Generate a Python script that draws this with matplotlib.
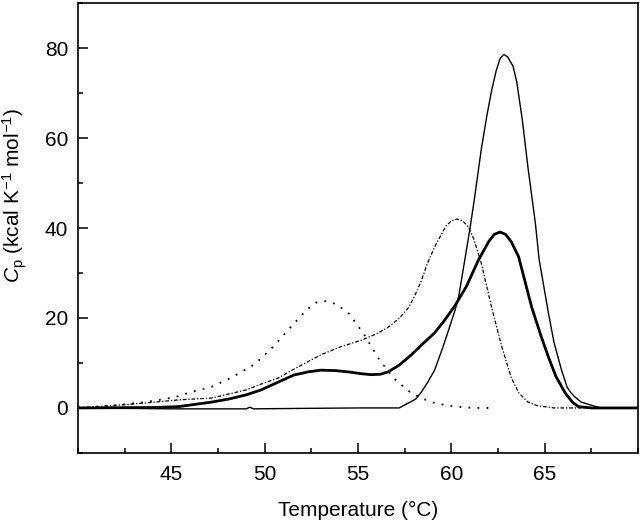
import matplotlib
matplotlib.use('agg')
import matplotlib.pyplot as plt
from matplotlib.ticker import MultipleLocator

plt.rcParams['font.family'] = ['Liberation Sans', 'DejaVu Sans']
plt.rcParams['mathtext.fontset'] = 'custom'
plt.rcParams['mathtext.rm'] = 'Liberation Sans'
plt.rcParams['mathtext.it'] = 'Liberation Sans:italic'

# dotted curve
t_dot = [40, 41, 41.8, 42.5, 43.6, 44.5, 45.2, 46.1, 47.15, 48.2, 49.3, 49.8, 50.5, 51.5,
         52.3, 52.8, 53.1, 53.5, 53.9, 54.5, 55.3, 56.1, 56.9, 57.85, 58.5, 59.1, 60.0,
         60.8, 61.5, 62.3]
cp_dot = [0.1, 0.3, 0.5, 0.8, 1.3, 1.9, 2.4, 3.6, 4.7, 6.7, 9.3, 11.0, 13.8, 18.5,
          22.0, 23.5, 23.8, 23.6, 22.9, 21.0, 16.5, 11.0, 6.6, 3.3, 2.0, 1.1, 0.4,
          0.1, 0.0, 0.0]

# dash-dot curve
t_dd = [40, 41.8, 43.6, 45.4, 47.15, 49, 49.8, 50.75, 51.55, 53, 54, 55.2, 56, 56.6, 57.2,
        57.7, 58.0, 58.4, 58.7, 59.1, 59.7, 60.0, 60.3, 60.6, 60.9, 61.2, 61.6, 62.15, 62.7,
        63.2, 63.6, 64.1, 64.6, 65.5, 67, 68, 69, 70]
cp_dd = [0, 0.5, 1.1, 1.8, 2.2, 4.0, 5.3, 6.7, 8.6, 11.8, 13.5, 15.1, 16.5, 17.9, 19.9,
         22.3, 24.6, 28.4, 32.0, 35.8, 40.4, 41.6, 42.0, 41.6, 40.3, 37.5, 32.2, 22.4, 13.6,
         6.8, 3.4, 1.3, 0.5, 0, 0, 0, 0, 0]

# thick solid curve
t_thick = [40, 44, 45.4, 47.15, 48.1, 49, 49.8, 50.75, 51.55, 52.3, 53, 53.8, 54.5, 55.2,
           55.7, 56.2, 56.6, 57.2, 57.85, 58.4, 59.1, 59.6, 60.2, 60.8, 61.45, 62, 62.3,
           62.6, 62.9, 63.2, 63.6, 64.3, 64.8, 65.2, 65.6, 66.1, 66.5, 66.8, 67.5, 68.5, 70]
cp_thick = [0, 0.1, 0.3, 1.3, 2.0, 2.9, 4.0, 5.8, 7.3, 8.0, 8.4, 8.3, 8.0, 7.6,
            7.4, 7.5, 8.0, 9.5, 11.8, 14.0, 16.7, 19.3, 22.8, 27.0, 32.9, 37.0, 38.6,
            39.1, 38.6, 37.0, 33.6, 22.4, 16.0, 11.3, 7.0, 3.3, 1.2, 0.3, 0, 0, 0]

# thin solid curve
t_thin = [40, 45, 49, 49.2, 49.4, 52, 55, 57.2, 57.7, 58.1, 58.4, 58.7, 59.1, 59.5, 59.8,
          60.2, 60.4, 61.0, 61.25, 61.6, 61.9, 62.15, 62.4, 62.6, 62.8, 63.0, 63.3, 63.5,
          63.8, 64.1, 64.5, 64.7, 65.2, 65.5, 65.9, 66.2, 66.4, 66.6, 66.95, 67.5, 68, 69, 70]
cp_thin = [0, -0.2, -0.2, 0.15, -0.2, -0.1, 0, 0, 1.1, 2.0, 3.6, 5.5, 8.4, 13.0, 16.7,
           21.8, 25.0, 40.0, 47.0, 57.5, 65.0, 70.5, 75.0, 77.6, 78.6, 78.1, 76.0, 72.5,
           64.0, 53.5, 41.0, 33.0, 21.0, 14.5, 8.4, 4.6, 3.4, 2.5, 1.3, 0.6, 0, 0, 0]

fig = plt.figure(figsize=(6.4, 5.23), dpi=100)
ax = fig.add_axes([0.122, 0.134, 0.875, 0.86])

ax.plot(t_thin, cp_thin, color='black', lw=1.0)
ax.plot(t_thick, cp_thick, color='black', lw=2.0)
ax.plot(t_dot, cp_dot, color='black', lw=1.3, linestyle=(0, (1, 4)))
ax.plot(t_dd, cp_dd, color='black', lw=0.9, linestyle=(0, (3, 1.5, 1, 1.5)))

ax.set_xlim(40, 70)
ax.set_ylim(-10, 90)
ax.xaxis.set_major_locator(MultipleLocator(5))
ax.xaxis.set_minor_locator(MultipleLocator(2.5))
ax.yaxis.set_major_locator(MultipleLocator(20))
ax.yaxis.set_minor_locator(MultipleLocator(10))
ax.set_xticks([45, 50, 55, 60, 65])
ax.set_yticks([0, 20, 40, 60, 80])
ax.tick_params(which='both', direction='in', width=1.1, labelsize=15)
ax.tick_params(which='major', length=7)
ax.tick_params(which='minor', length=3.6)
ax.tick_params(axis='x', pad=9)
ax.tick_params(axis='y', pad=7)
for s in ax.spines.values():
  s.set_linewidth(1.2)

ax.set_xlabel('Temperature (°C)', fontsize=15, labelpad=12)
ax.set_ylabel(r'$C_\mathrm{p}$ (kcal K$^{-1}$ mol$^{-1}$)', fontsize=15)
ax.yaxis.set_label_coords(-0.088, 0.573)

fig.savefig('out.png', dpi=100)
plt.close()
